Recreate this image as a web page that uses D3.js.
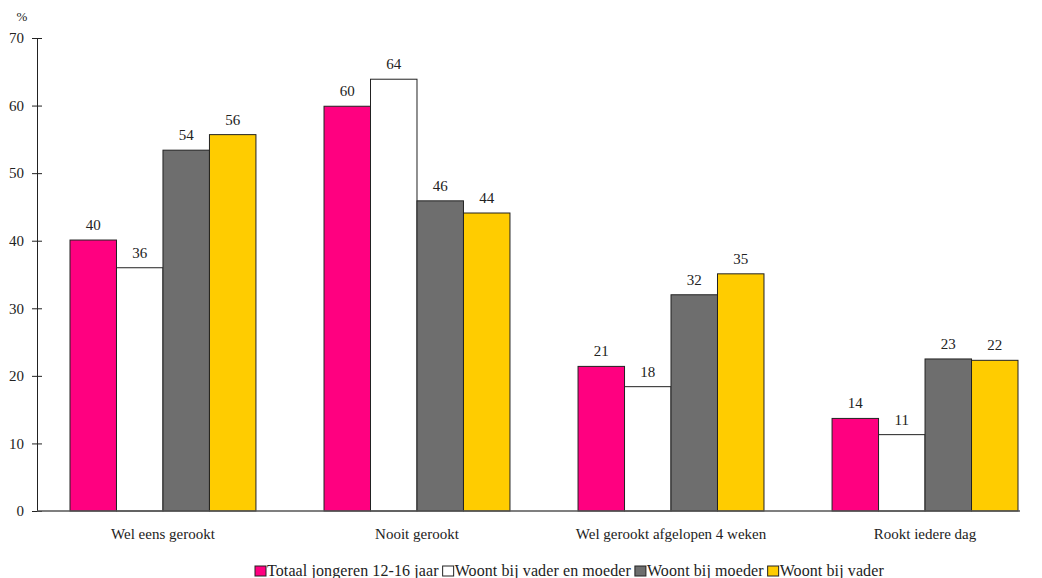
<!DOCTYPE html>
<html>
<head>
<meta charset="utf-8">
<script src="https://cdn.jsdelivr.net/npm/d3@7"></script>
<style>
  body { margin: 0; background: #fff; }
  svg text { font-family: "Liberation Serif", "DejaVu Serif", serif; fill: #222; }
</style>
</head>
<body>
<script>
var categories = ['Wel eens gerookt', 'Nooit gerookt', 'Wel gerookt afgelopen 4 weken', 'Rookt iedere dag'];
var seriesNames = ['Totaal jongeren 12-16 jaar', 'Woont bij vader en moeder', 'Woont bij moeder', 'Woont bij vader'];
var totaal = [40.1, 59.9, 21.4, 13.7];
var beide = [36.0, 63.9, 18.4, 11.3];
var moeder = [53.4, 45.9, 32.0, 22.5];
var vader = [55.7, 44.1, 35.1, 22.3];
var labels = [[40, 60, 21, 14], [36, 64, 18, 11], [54, 46, 32, 23], [56, 44, 35, 22]];
var yTicks = [0, 10, 20, 30, 40, 50, 60, 70];
var colors = ['#ff0080', '#ffffff', '#6e6e6e', '#ffcc00'];

var series = [totaal, beide, moeder, vader];

var svg = d3.select('body').append('svg')
  .attr('width', 1042)
  .attr('height', 578);

var x0 = d3.scaleBand().domain(categories).range([70, 1018]).paddingInner(0.268).paddingOuter(0);
var x1 = d3.scaleBand().domain(d3.range(4)).range([0, x0.bandwidth()]);
var y = d3.scaleLinear().domain([0, 70]).range([511, 38]);

// bars
var groups = svg.selectAll('g.grp')
  .data(categories)
  .enter().append('g')
  .attr('class', 'grp')
  .attr('transform', function(d) { return 'translate(' + x0(d) + ',0)'; });

groups.each(function(cat, ci) {
  var g = d3.select(this);
  series.forEach(function(s, si) {
    g.append('rect')
      .attr('x', x1(si))
      .attr('y', y(s[ci]))
      .attr('width', x1.bandwidth())
      .attr('height', y(0) - y(s[ci]))
      .attr('fill', colors[si])
      .attr('stroke', '#222')
      .attr('stroke-width', 1);
    g.append('text')
      .attr('x', x1(si) + x1.bandwidth() / 2)
      .attr('y', y(s[ci]) - 10)
      .attr('text-anchor', 'middle')
      .style('font-size', '15px')
      .text(labels[si][ci]);
  });
});

// y axis
var yAxis = d3.axisLeft(y).tickValues(yTicks).tickSizeInner(5).tickSizeOuter(0).tickPadding(8);
var ya = svg.append('g').attr('transform', 'translate(37,0)').call(yAxis);
ya.attr('font-family', null);
ya.select('.domain').attr('stroke', '#222');
ya.selectAll('.tick line').attr('x1', -5).attr('x2', 5).attr('stroke', '#222');
ya.selectAll('.tick text').style('font-size', '15px').attr('fill', '#222');

svg.append('text').attr('x', 22).attr('y', 21).attr('text-anchor', 'middle')
  .style('font-size', '13px').text('%');

// x axis
svg.append('line').attr('x1', 37).attr('x2', 1020).attr('y1', y(0)).attr('y2', y(0))
  .attr('stroke', '#555').attr('stroke-width', 1.5);

svg.selectAll('text.cat')
  .data(categories)
  .enter().append('text')
  .attr('class', 'cat')
  .attr('x', function(d) { return x0(d) + x0.bandwidth() / 2; })
  .attr('y', 539)
  .attr('text-anchor', 'middle')
  .style('font-size', '15px')
  .text(function(d) { return d; });

// legend
var legend = svg.append('g').attr('transform', 'translate(255,576)');
var lx = 0;
seriesNames.forEach(function(name, i) {
  legend.append('rect')
    .attr('x', lx).attr('y', -10)
    .attr('width', 11).attr('height', 10)
    .attr('fill', colors[i]).attr('stroke', '#222');
  var t = legend.append('text')
    .attr('x', lx + 12).attr('y', 0)
    .style('font-size', '16px')
    .style('letter-spacing', '0.1px')
    .text(name);
  lx += 12 + t.node().getComputedTextLength() + 4;
});
</script>
</body>
</html>
